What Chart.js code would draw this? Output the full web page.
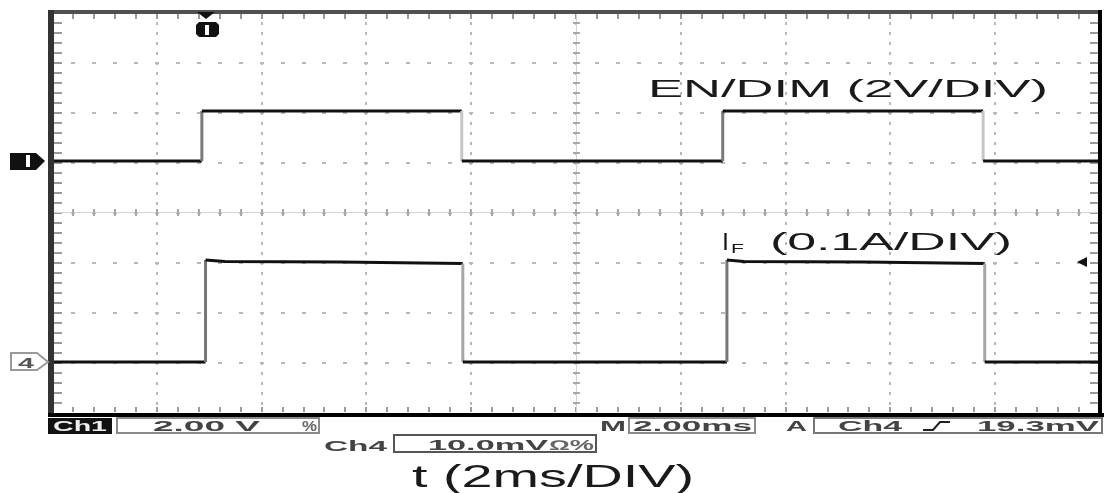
<!DOCTYPE html>
<html>
<head>
<meta charset="utf-8">
<script src="https://cdn.jsdelivr.net/npm/chart.js@4.4.1/dist/chart.umd.min.js"></script>
<style>
  html, body { margin:0; padding:0; background:#fff; }
  #wrap { width:1106px; height:493px; }
</style>
</head>
<body>
<div id="wrap"><canvas id="scope" width="1106" height="493"></canvas></div>
<script>
// time base: 2ms/div, 10 div on screen
const timeRange = [0, 20];

// Ch1 - EN/DIM (V), 2V/div
const ch1Time  = [0, 2.86, 2.86, 7.82, 7.82, 12.80, 12.80, 17.77, 17.77, 20];
const ch1Volts = [0, 0,    2,    2,    0,    0,     2,     2,     0,     0];

// Ch4 - I_F (A), 0.1A/div
const ch4Time = [0, 2.93, 2.93, 3.30, 5.5,  7.84,  7.84, 12.88, 12.88, 13.20, 15.5, 17.80, 17.80, 20];
const ch4Amps = [0, 0,    0.204, 0.201, 0.2, 0.197, 0,    0,     0.204, 0.201, 0.2,  0.197, 0,     0];

// vertical windows (8 div each) - ground markers sit where 0 lands
const ch1Range = [-10.08, 5.92];
const ch4Range = [-0.102, 0.698];

// trigger (Ch4 rising)
const triggerTime = 2.93;
const triggerLevel = 0.2;

// readouts
const labelCh1 = 'EN/DIM (2V/DIV)';
const labelCh4 = ['I', 'F', '(0.1A/DIV)'];
const labelTime = 't (2ms/DIV)';

function pts(xs, ys){
  return xs.map(function(t, i){ return {x: t, y: ys[i]}; });
}

// vertical steps drawn grey like the scope does
function edgeColor(up, down){
  return function(c){
    if (c.p0.parsed.x !== c.p1.parsed.x) return undefined;
    return c.p1.parsed.y > c.p0.parsed.y ? up : down;
  };
}

function fitText(ctx, txt, x0, x1, baseline, font, color){
  ctx.save();
  ctx.font = font;
  var w = ctx.measureText(txt).width;
  ctx.translate(x0, baseline);
  ctx.scale((x1 - x0) / w, 1);
  ctx.fillStyle = color;
  ctx.textBaseline = 'alphabetic';
  ctx.textAlign = 'left';
  ctx.fillText(txt, 0, 0);
  ctx.restore();
}

// GRID
// *******************
const scopeGrid = {
  id: 'scopeGrid',
  beforeDatasetsDraw: function(chart){
    var ctx = chart.ctx, a = chart.chartArea;
    var dx = (a.right - a.left) / 10, dy = (a.bottom - a.top) / 8;
    ctx.save();
    ctx.fillStyle = '#b8b8b8';
    // vertical dotted lines
    for (var i = 1; i < 10; i++){
      var x = Math.round(a.left + i * dx);
      for (var y = a.top + 10; y < a.bottom - 2; y += dy / 5){
        ctx.fillRect(x - 1, Math.round(y) - 1, 2, 3);
      }
    }
    // horizontal dotted lines
    for (var j = 1; j < 8; j++){
      var yy = Math.round(a.top + j * dy);
      for (var xx = a.left + dx / 5; xx < a.right - 2; xx += dx / 5){
        ctx.fillRect(Math.round(xx) - 2, yy - 1, 4, 2);
      }
    }
    // ticks on the frame
    ctx.fillStyle = '#9a9a9a';
    for (var y2 = a.top + dy / 5; y2 < a.bottom - 2; y2 += dy / 5){
      ctx.fillRect(a.left + 2, Math.round(y2) - 1, 8, 2);
      ctx.fillRect(a.right - 10, Math.round(y2) - 1, 8, 2);
    }
    for (var x2 = a.left + dx / 5; x2 < a.right - 2; x2 += dx / 5){
      ctx.fillRect(Math.round(x2) - 1, a.top + 1, 2, 5);
      ctx.fillRect(Math.round(x2) - 1, a.bottom - 6, 2, 5);
    }
    // centre crosshair
    var cy = Math.round(a.top + 4 * dy), cx = Math.round(a.left + 5 * dx);
    ctx.fillStyle = '#d4d4d4';
    ctx.fillRect(a.left, cy - 1, a.right - a.left, 1);
    ctx.fillRect(cx, a.top, 1, a.bottom - a.top);
    ctx.fillStyle = '#a8a8a8';
    for (var x3 = a.left + dx / 5; x3 < a.right - 2; x3 += dx / 5){
      ctx.fillRect(Math.round(x3) - 1, cy - 4, 2, 7);
    }
    for (var y3 = a.top + dy / 5; y3 < a.bottom - 2; y3 += dy / 5){
      ctx.fillRect(cx - 3, Math.round(y3) - 1, 7, 2);
    }
    ctx.restore();
  },
  afterDatasetsDraw: function(chart){
    var ctx = chart.ctx, a = chart.chartArea;
    var xs = chart.scales.x, y1 = chart.scales.y1, y4 = chart.scales.y4;
    ctx.save();

    // frame
    ctx.fillStyle = '#505050';
    ctx.fillRect(a.left - 4, a.top - 3, a.right - a.left + 6, 4);
    ctx.fillStyle = '#333';
    ctx.fillRect(a.left - 4, a.top - 3, 6, a.bottom - a.top + 6);
    ctx.fillStyle = '#000';
    ctx.fillRect(a.left - 4, a.bottom, a.right - a.left + 8, 4);
    ctx.fillRect(a.right - 2, a.top - 3, 4, a.bottom - a.top + 7);

    // Ch1 ground marker
    var g1 = Math.round(y1.getPixelForValue(0));
    ctx.fillStyle = '#111';
    ctx.beginPath();
    ctx.moveTo(10, g1 - 8); ctx.lineTo(36, g1 - 8); ctx.lineTo(45, g1);
    ctx.lineTo(36, g1 + 9); ctx.lineTo(10, g1 + 9); ctx.closePath(); ctx.fill();
    ctx.fillStyle = '#fff';
    ctx.fillRect(26, g1 - 6, 4, 12);

    // Ch4 ground marker
    var g4 = Math.round(y4.getPixelForValue(0));
    ctx.fillStyle = '#fff';
    ctx.strokeStyle = '#9a9a9a';
    ctx.lineWidth = 2;
    ctx.beginPath();
    ctx.moveTo(11, g4 - 9); ctx.lineTo(37, g4 - 9); ctx.lineTo(48, g4);
    ctx.lineTo(37, g4 + 8); ctx.lineTo(11, g4 + 8); ctx.closePath();
    ctx.fill(); ctx.stroke();
    fitText(ctx, '4', 18, 34, g4 + 6, 'bold 15px "Liberation Sans"', '#555');

    // trigger position marker
    var tx = Math.round(xs.getPixelForValue(triggerTime));
    ctx.fillStyle = '#111';
    ctx.beginPath();
    ctx.moveTo(tx - 9, a.top - 1); ctx.lineTo(tx + 9, a.top - 1); ctx.lineTo(tx, a.top + 6);
    ctx.closePath(); ctx.fill();
    ctx.beginPath();
    ctx.moveTo(tx - 10, 25); ctx.lineTo(tx - 7, 22); ctx.lineTo(tx + 10, 22); ctx.lineTo(tx + 13, 25);
    ctx.lineTo(tx + 13, 34); ctx.lineTo(tx + 10, 37); ctx.lineTo(tx - 7, 37); ctx.lineTo(tx - 10, 34);
    ctx.closePath(); ctx.fill();
    ctx.fillStyle = '#fff';
    ctx.fillRect(tx - 1, 25, 4, 10);

    // trigger level arrow
    var ty = Math.round(y4.getPixelForValue(triggerLevel));
    ctx.fillStyle = '#111';
    ctx.beginPath();
    ctx.moveTo(a.right - 23, ty); ctx.lineTo(a.right - 13, ty - 5); ctx.lineTo(a.right - 13, ty + 5);
    ctx.closePath(); ctx.fill();

    // channel labels
    var big = '23px "Liberation Sans"';
    fitText(ctx, labelCh1, 648, 1048, 97, big, '#1a1a1a');
    fitText(ctx, labelCh4[0], 722, 729, 250, big, '#1a1a1a');
    fitText(ctx, labelCh4[1], 731, 744, 253, '13px "Liberation Sans"', '#1a1a1a');
    fitText(ctx, labelCh4[2], 770, 1012, 250, big, '#1a1a1a');
    fitText(ctx, labelTime, 412, 694, 487, '31px "Liberation Sans"', '#1a1a1a');

    // status bar
    var sb = 'bold 14px "Liberation Sans"';
    ctx.fillStyle = '#111';
    ctx.fillRect(48, 418, 64, 16);
    fitText(ctx, 'Ch1', 53, 107, 431, sb, '#eee');
    ctx.lineWidth = 2;
    ctx.strokeStyle = '#8a8a8a';
    ctx.strokeRect(117, 418, 202, 15);
    fitText(ctx, '2.00 V', 153, 260, 431, sb, '#444');
    fitText(ctx, '%', 302, 317, 431, sb, '#666');

    fitText(ctx, 'Ch4', 324, 387, 451, sb, '#444');
    ctx.strokeStyle = '#555';
    ctx.strokeRect(394, 435, 202, 17);
    fitText(ctx, '10.0mV', 428, 548, 450, sb, '#444');
    fitText(ctx, '\u2126%', 549, 594, 450, sb, '#666');

    fitText(ctx, 'M', 600, 626, 431, sb, '#444');
    ctx.strokeStyle = '#8a8a8a';
    ctx.strokeRect(629, 418, 126, 15);
    fitText(ctx, '2.00ms', 633, 752, 431, sb, '#444');

    fitText(ctx, 'A', 786, 807, 431, sb, '#444');
    ctx.strokeStyle = '#777';
    ctx.strokeRect(814, 418, 288, 15);
    fitText(ctx, 'Ch4', 838, 902, 431, sb, '#444');
    // rising-edge glyph
    ctx.strokeStyle = '#222';
    ctx.lineWidth = 2;
    ctx.beginPath();
    ctx.moveTo(923, 430); ctx.lineTo(933, 430); ctx.lineTo(940, 422); ctx.lineTo(950, 422);
    ctx.stroke();
    fitText(ctx, '19.3mV', 977, 1099, 431, sb, '#444');

    ctx.restore();
  }
};

var ctx = document.getElementById('scope').getContext('2d');
var scopeChart = new Chart(ctx, {
  type: 'line',
  data: {
    datasets: [{
      label: 'EN/DIM',
      data: pts(ch1Time, ch1Volts),
      yAxisID: 'y1',
      borderColor: '#111',
      borderWidth: 3,
      segment: { borderColor: edgeColor('#7a7a7a', '#c6c6c6') }
    }, {
      label: 'I_F',
      data: pts(ch4Time, ch4Amps),
      yAxisID: 'y4',
      borderColor: '#111',
      borderWidth: 3,
      segment: { borderColor: edgeColor('#777', '#a6a6a6') }
    }]
  },
  options: {
    responsive: false,
    devicePixelRatio: 1,
    animation: false,
    layout: { padding: { left: 52, top: 13, right: 6, bottom: 80 } },
    elements: { point: { radius: 0 }, line: { tension: 0, borderCapStyle: 'butt' } },
    plugins: { legend: { display: false }, tooltip: { enabled: false } },
    scales: {
      x: { type: 'linear', min: timeRange[0], max: timeRange[1], display: false },
      y1: { type: 'linear', min: ch1Range[0], max: ch1Range[1], display: false },
      y4: { type: 'linear', min: ch4Range[0], max: ch4Range[1], display: false }
    }
  },
  plugins: [scopeGrid]
});
</script>
</body>
</html>
